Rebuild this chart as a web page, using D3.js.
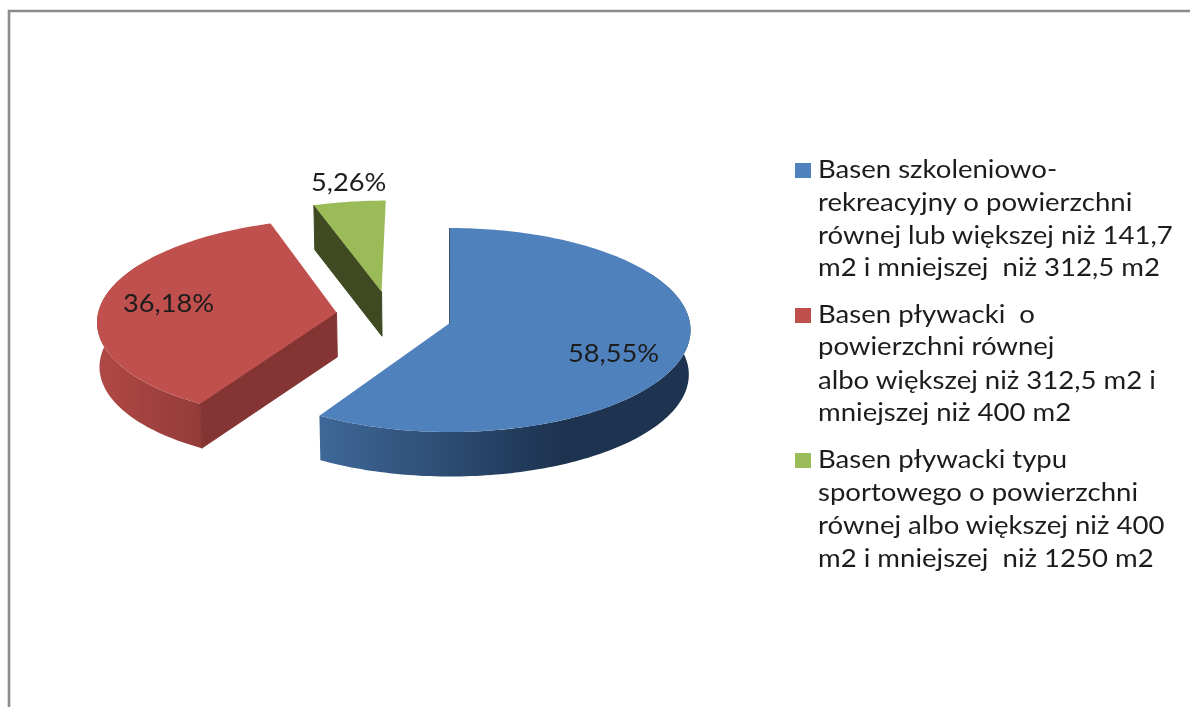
<!DOCTYPE html>
<html>
<head>
<meta charset="utf-8">
<script src="https://cdnjs.cloudflare.com/ajax/libs/d3/7.8.5/d3.min.js"></script>
<style>
  html, body { margin: 0; padding: 0; background: #fff; overflow: hidden; }
  svg { display: block; filter: blur(0.45px); }
  text { font-family: Lato, "Open Sans", sans-serif; fill: #1c1c1c; }
</style>
</head>
<body>
<div id="wykres"></div>
<script>
// dane
const wartosci = [58.55, 36.18, 5.26];
const legenda = [
  ["Basen szkoleniowo-", "rekreacyjny o powierzchni", "równej lub większej niż 141,7", "m2 i mniejszej  niż 312,5 m2"],
  ["Basen pływacki  o", "powierzchni równej", "albo większej niż 312,5 m2 i", "mniejszej niż 400 m2"],
  ["Basen pływacki typu", "sportowego o powierzchni", "równej albo większej niż 400", "m2 i mniejszej  niż 1250 m2"]
];

// kolory i układ
const koloryGora = ["#4f81bd", "#c0504d", "#9bbb59"];
const koloryScianka = ["#1d3450", "#843533", "#3f4a22"];
const gradienty = [
  [[325, "#3e6797"], [560, "#1d3350"]],
  [[101, "#ae4845"], [203, "#933b39"]],
  [[315, "#3f4a22"], [385, "#3f4a22"]]
];
const wysuniecie = [[0.006, 0], [-0.47, 0.105], [-0.285, 0.315]]; // w jednostkach promienia
const pozycjeEtykiet = [[568, 362], [123, 312], [311, 191]];
const legendaY = [[178, 211, 244, 276], [323, 355, 389, 421], [468, 501, 534, 567]];

const width = 1190, height = 707;
const cx = 448.5, cy = 323, R = 240, H = 101.5, persp = 0.0687, glebokosc = 44.5, zwezenie = 0.993;

const svg = d3.select("#wykres").append("svg")
  .attr("width", width)
  .attr("height", height);

// ramka
svg.append("rect").attr("width", width).attr("height", height).attr("fill", "#fff");
svg.append("path")
  .attr("d", `M${width + 5},11 H9 V${height + 5}`)
  .attr("fill", "none")
  .attr("stroke", "#8c8c8c")
  .attr("stroke-width", 2.6);

// rzut punktu z dysku na ekran, z lekka perspektywa
function rzut(u, v, dol) {
  const k = 1 + persp * v;
  let x = cx + R * u / k;
  let y = cy - H * v / k;
  if (dol) {
    x = cx + (x - cx) * zwezenie;
    y = y + glebokosc;
  }
  return [x, y];
}

const pie = d3.pie().sort(null).value(d => d);
const wycinki = pie(wartosci);
const linia = d3.line();
const defs = svg.append("defs");

function punktyLuku(a0, a1, przes, dol) {
  const n = Math.max(2, Math.ceil((a1 - a0) / 0.02));
  return d3.range(n + 1).map(i => {
    const a = a0 + (a1 - a0) * i / n;
    return rzut(Math.sin(a) + przes[0], Math.cos(a) + przes[1], dol);
  });
}

const wykres = svg.append("g").attr("class", "wycinki");

wycinki.forEach((w, i) => {
  const przes = wysuniecie[i];
  const g = wykres.append("g");

  const grad = defs.append("linearGradient")
    .attr("id", "sciana" + i)
    .attr("gradientUnits", "userSpaceOnUse")
    .attr("x1", gradienty[i][0][0]).attr("x2", gradienty[i][1][0])
    .attr("y1", 0).attr("y2", 0);
  gradienty[i].forEach((s, j) => grad.append("stop").attr("offset", j).attr("stop-color", s[1]));

  // sciana zewnetrzna
  const a0 = Math.max(w.startAngle, Math.PI / 3);
  const a1 = Math.min(w.endAngle, Math.PI * 5 / 3);
  if (a1 > a0) {
    const gora = punktyLuku(a0, a1, przes, false);
    const dol = punktyLuku(a0, a1, przes, true).reverse();
    g.append("path")
      .attr("d", linia(gora.concat(dol)) + "Z")
      .attr("fill", `url(#sciana${i})`);
  }

  // sciana boczna od strony kata poczatkowego
  const srodek = rzut(przes[0], przes[1], false);
  const srodekDol = rzut(przes[0], przes[1], true);
  const brzeg = rzut(Math.sin(w.startAngle) + przes[0], Math.cos(w.startAngle) + przes[1], false);
  const brzegDol = rzut(Math.sin(w.startAngle) + przes[0], Math.cos(w.startAngle) + przes[1], true);
  g.append("path")
    .attr("d", linia([srodek, brzeg, brzegDol, srodekDol]) + "Z")
    .attr("fill", koloryScianka[i])
    .attr("stroke", koloryScianka[i])
    .attr("stroke-width", 1);

  // gorna powierzchnia
  g.append("path")
    .attr("d", linia([srodek].concat(punktyLuku(w.startAngle, w.endAngle, przes, false))) + "Z")
    .attr("fill", koloryGora[i]);
});

// etykiety wartosci
const pl = d3.formatLocale({ decimal: ",", thousands: " ", grouping: [3], currency: ["", " zł"] });
const fmt = pl.format(".2f");

function napis(sel, x, y, skala) {
  return sel.attr("transform", `translate(${x},${y}) scale(${skala},1)`);
}

wartosci.forEach((v, i) => {
  napis(svg.append("text"), pozycjeEtykiet[i][0], pozycjeEtykiet[i][1], 1.11)
    .attr("font-size", 24.5)
    .text(fmt(v) + "%");
});

// legenda
legenda.forEach((wiersze, i) => {
  svg.append("rect")
    .attr("x", 795)
    .attr("y", legendaY[i][0] - 15)
    .attr("width", 16)
    .attr("height", 15)
    .attr("fill", koloryGora[i]);
  wiersze.forEach((t, j) => {
    napis(svg.append("text"), 818, legendaY[i][j], 1.125)
      .attr("font-size", 24.5)
      .attr("xml:space", "preserve")
      .style("white-space", "pre")
      .text(t);
  });
});
</script>
</body>
</html>
